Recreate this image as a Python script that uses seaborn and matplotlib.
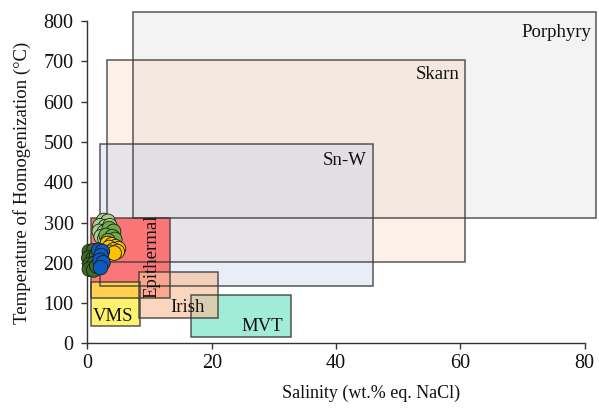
import numpy as np
import pandas as pd
import seaborn as sns
import matplotlib.pyplot as plt
from matplotlib.patches import Rectangle

# Fluid-inclusion fields of ore-deposit types (salinity in wt.% NaCl eq., Th in °C)
deposit_names = ["Porphyry", "Skarn", "Sn-W", "Epithermal", "MVT", "Irish", "VMS"]
salinity_min = [7.3, 3.1, 2.0, 0.5, 16.7, 8.3, 0.5]
salinity_max = [81.8, 60.8, 45.9, 13.3, 32.7, 21.0, 8.4]
temp_min = [312, 202, 142, 113, 16, 62, 43]
temp_max = [823, 704, 494, 312, 120, 178, 153]

# Measured inclusions, one list pair per inclusion group
group_names = ["Group 1", "Group 2", "Group 3", "Group 4", "Group 5"]
g1_salinity = [2.6, 3.3, 2.0, 2.9, 3.6, 1.9, 2.7, 3.3, 2.2, 2.8]
g1_temp = [305, 303, 292, 290, 292, 278, 276, 270, 265, 260]
g2_salinity = [3.5, 4.2, 3.0, 4.0, 4.4, 3.3]
g2_temp = [285, 278, 268, 265, 258, 255]
g3_salinity = [3.2, 3.9, 4.5, 5.0, 3.5, 4.2, 4.8, 3.6, 4.3]
g3_temp = [248, 245, 240, 235, 238, 232, 228, 226, 224]
g4_salinity = [0.3, 1.0, 0.2, 0.9, 1.5, 0.4, 1.1, 0.3, 1.0, 1.5]
g4_temp = [228, 230, 212, 210, 220, 196, 198, 184, 182, 192]
g5_salinity = [1.8, 2.4, 2.2, 2.0, 2.5, 2.1]
g5_temp = [231, 228, 218, 206, 200, 188]

x_ticks = [0, 20, 40, 60, 80]
y_ticks = [0, 100, 200, 300, 400, 500, 600, 700, 800]

sns.set_style("ticks")
plt.rcParams["font.family"] = ["Liberation Serif", "DejaVu Serif"]

fig = plt.figure(figsize=(5.99, 4.12), dpi=100)
ax = fig.add_axes([0.146, 0.1667, 0.830, 0.782])

field_style = {
    "Porphyry": dict(fc="#DCDCDC", alpha=0.32),
    "Skarn": dict(fc="#F8CBAD", alpha=0.28),
    "Sn-W": dict(fc="#C5D0EA", alpha=0.38),
    "Epithermal": dict(fc="#FF5A5A", alpha=0.8),
    "MVT": dict(fc="#8FE9CF", alpha=0.85),
    "Irish": dict(fc="#F8C09C", alpha=0.65),
    "VMS": dict(fc="#FFEE40", alpha=0.75),
}
for name, x0, x1, y0, y1 in zip(deposit_names, salinity_min, salinity_max, temp_min, temp_max):
    st = field_style[name]
    ax.add_patch(Rectangle((x0, y0), x1 - x0, y1 - y0, facecolor=st["fc"], alpha=st["alpha"],
                           edgecolor="none", clip_on=False, zorder=1))
    ax.add_patch(Rectangle((x0, y0), x1 - x0, y1 - y0, facecolor="none",
                           edgecolor="#3A3A3A", lw=1.1, alpha=0.85, clip_on=False, zorder=1.5))

frames = []
for name, xs, ys in zip(group_names,
                        [g1_salinity, g2_salinity, g3_salinity, g4_salinity, g5_salinity],
                        [g1_temp, g2_temp, g3_temp, g4_temp, g5_temp]):
    frames.append(pd.DataFrame({"salinity": xs, "temperature": ys, "group": name}))
points = pd.concat(frames, ignore_index=True)

palette = dict(zip(group_names, ["#A9D18E", "#70AD47", "#FFC000", "#3D6B24", "#0A5CBE"]))
sns.scatterplot(data=points, x="salinity", y="temperature", hue="group", palette=palette,
                s=110, edgecolor="#1A1A1A", linewidth=0.6, legend=False, ax=ax,
                clip_on=False, zorder=3)

# Field labels
label_kw = dict(fontsize=13.5, color="#111111", zorder=4)
ax.text(81.0, 773, "Porphyry", ha="right", va="center", **label_kw)
ax.text(59.9, 667, "Skarn", ha="right", va="center", **label_kw)
ax.text(44.9, 455, "Sn-W", ha="right", va="center", **label_kw)
ax.text(10.3, 216, "Epithermal", ha="center", va="center", rotation=90, **label_kw)
ax.text(16.1, 88, "Irish", ha="center", va="center", **label_kw)
ax.text(28.2, 43, "MVT", ha="center", va="center", **label_kw)
ax.text(4.1, 66, "VMS", ha="center", va="center", **label_kw)

ax.set_xlim(0, 80)
ax.set_ylim(0, 800)
ax.set_xticks(x_ticks)
ax.set_yticks(y_ticks)
ax.tick_params(axis="both", labelsize=14.5, length=4, width=1, color="#333333",
               labelcolor="#111111")
ax.tick_params(axis="y", pad=6)
ax.tick_params(axis="x", pad=4)
for side in ["top", "right"]:
    ax.spines[side].set_visible(False)
for side in ["left", "bottom"]:
    ax.spines[side].set_color("#333333")
    ax.spines[side].set_linewidth(1.0)
ax.set_facecolor("white")

ax.set_xlabel("")
ax.set_ylabel("")
fig.text(0.62, 0.046, "Salinity (wt.% eq. NaCl)", ha="center", va="center",
         fontsize=13, color="#111111")
fig.text(0.037, 0.556, "Temperature of Homogenization (°C)", ha="center", va="center",
         rotation=90, fontsize=13.5, color="#111111")

fig.savefig("out.png", dpi=100)
